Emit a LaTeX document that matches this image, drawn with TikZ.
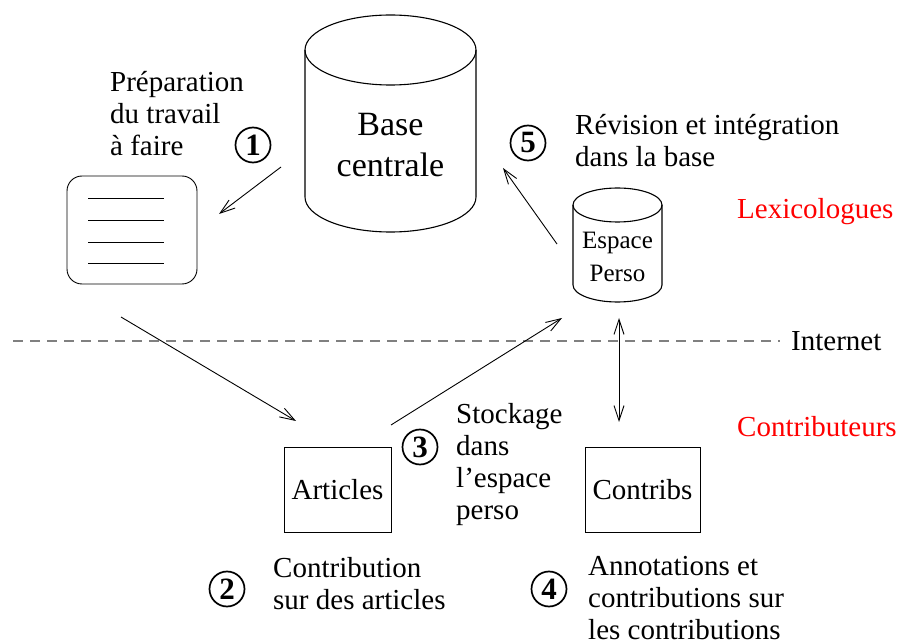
\documentclass[tikz,border=0pt]{standalone}
\usepackage{fontspec}
\setmainfont{Liberation Serif}
\usetikzlibrary{arrows.meta}

\tikzset{
  txt/.style={font=\fontsize{29}{32}\selectfont, align=left, inner sep=0pt, anchor=west},
  side/.style={font=\fontsize{29}{32}\selectfont, inner sep=0pt, anchor=west},
  numcirc/.style={draw, circle, line width=1.7pt, minimum size=35pt, inner sep=0pt,
    font=\fontsize{31}{32}\selectfont\bfseries},
  flow/.style={-{Straight Barb[length=15pt,width=10pt]}, line width=0.9pt},
  box/.style={draw, line width=0.9pt, minimum width=107pt, minimum height=85pt,
    font=\fontsize{29}{32}\selectfont},
}

\begin{document}
\begin{tikzpicture}[x=1pt,y=-1pt]
\useasboundingbox (0,0) rectangle (903,644);

% base centrale
\draw[line width=1.1pt] (390.5,50) ellipse [x radius=85.5pt, y radius=35pt];
\draw[line width=1.1pt] (305,50) -- (305,197)
   arc[start angle=180, end angle=360, x radius=85.5pt, y radius=35pt] -- (476,50);
\node[font=\fontsize{34}{41}\selectfont, align=center, inner sep=0pt] (base) at (390.5,145) {Base\\centrale};

% espace perso
\draw[line width=1.1pt] (617.5,205) ellipse [x radius=44.5pt, y radius=17pt];
\draw[line width=1.1pt] (573,205) -- (573,285)
   arc[start angle=180, end angle=360, x radius=44.5pt, y radius=17pt] -- (662,205);
\node[font=\fontsize{25}{33}\selectfont, align=center, inner sep=0pt] (perso) at (617.5,257) {Espace\\Perso};

% travail a faire
\node[draw, line width=0.9pt, rounded corners=15pt, minimum width=130pt, minimum height=108pt] (todo) at (132,230) {};
\foreach \y in {198,220,242,263}
  \draw[line width=0.9pt] (88,\y) -- (164,\y);

% boites
\node[box] (articles) at (337.5,489.5) {Articles};
\node[box, minimum width=115pt] (contribs) at (642.5,489.5) {Contribs};

% internet
\draw[gray, line width=1.2pt, dash pattern=on 10pt off 7pt] (13,341) -- (780,341);

% fleches
\coordinate (a1s) at (281,167);
\coordinate (a1e) at (219,214);
\coordinate (a2s) at (121,317);
\coordinate (a2e) at (296,421);
\coordinate (a3s) at (391,425);
\coordinate (a3e) at (562,318);
\coordinate (a4s) at (619,318);
\coordinate (a4e) at (619,422);
\coordinate (a5s) at (557,244);
\coordinate (a5e) at (503,168);
\draw[flow] (a1s) -- (a1e);
\draw[flow] (a2s) -- (a2e);
\draw[flow] (a3s) -- (a3e);
\draw[flow, {Straight Barb[length=15pt,width=10pt]}-{Straight Barb[length=15pt,width=10pt]}] (a4s) -- (a4e);
\draw[flow] (a5s) -- (a5e);

% etapes
\node[numcirc] (n1) at (253,145) {1};
\node[numcirc] (n2) at (227,589) {2};
\node[numcirc] (n3) at (420,447) {3};
\node[numcirc] (n4) at (549,589) {4};
\node[numcirc] (n5) at (528,143) {5};

\node[txt] (prep) at (110,114) {Préparation\\du travail\\à faire};
\node[txt] (revis) at (575,141) {Révision et intégration\\dans la base};
\node[txt] (stock) at (456,465) {Stockage\\dans\\l’espace\\perso};
\node[txt] (contrib) at (273,584) {Contribution\\sur des articles};
\node[txt] (annot) at (588,598) {Annotations et\\contributions sur\\les contributions};

% acteurs
\node[side, text=red] (lexico) at (737,212) {Lexicologues};
\node[side] (net) at (791,341) {Internet};
\node[side, text=red] (contribu) at (737,427) {Contributeurs};

\end{tikzpicture}
\end{document}
